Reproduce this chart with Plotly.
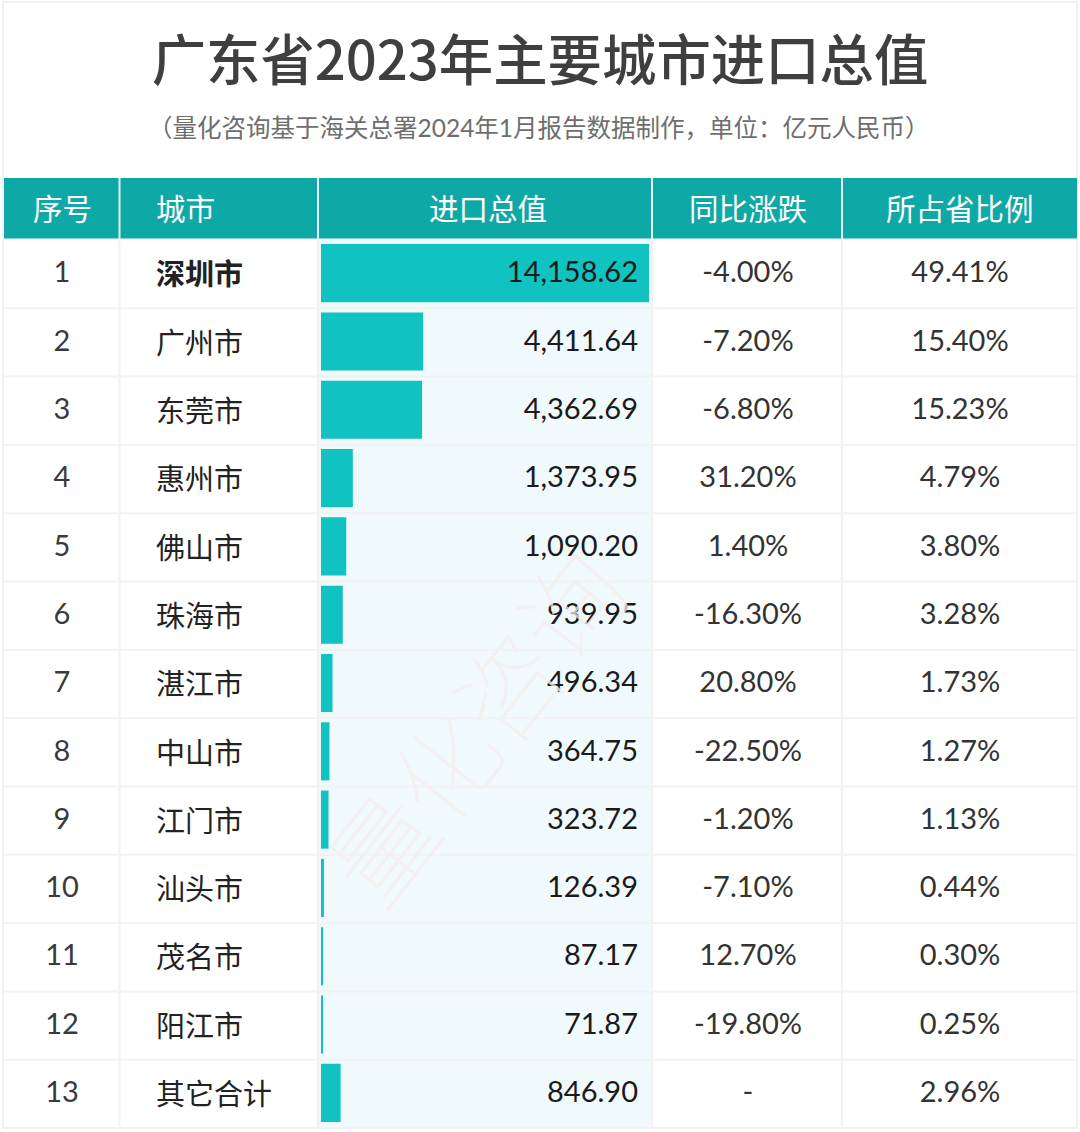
import plotly.graph_objects as go

# table contents
ranks = [str(i) for i in range(1, 14)]
cities = ['深圳市', '广州市', '东莞市', '惠州市', '佛山市', '珠海市', '湛江市',
          '中山市', '江门市', '汕头市', '茂名市', '阳江市', '其它合计']
import_values = [14158.62, 4411.64, 4362.69, 1373.95, 1090.20, 939.95, 496.34,
                 364.75, 323.72, 126.39, 87.17, 71.87, 846.90]
yoy_change = [-4.00, -7.20, -6.80, 31.20, 1.40, -16.30, 20.80,
              -22.50, -1.20, -7.10, 12.70, -19.80, None]
province_share = [49.41, 15.40, 15.23, 4.79, 3.80, 3.28, 1.73,
                  1.27, 1.13, 0.44, 0.30, 0.25, 2.96]
headers = ['序号', '城市', '进口总值', '同比涨跌', '所占省比例']

W, H = 1080, 1132
FONT = 'Lato, "Noto Sans CJK SC", sans-serif'
CJK = '"Noto Sans CJK SC", sans-serif'
TEAL = '#0ea9a7'
BAR = '#10c2c0'
LINE = '#f2f2f2'

row_top, row_bottom = 240, 1128
col_edges = [4, 119.5, 318, 652, 842, 1077]


def px(x):
    return x / W


def py(y):
    return 1 - y / H


yoy_labels = ['-' if v is None else f'{v:.2f}%' for v in yoy_change]
share_labels = [f'{v:.2f}%' for v in province_share]
value_labels = [f'{v:,.2f}' for v in import_values]
city_labels = [f'<b>{c}</b>' if i == 0 else c for i, c in enumerate(cities)]

fig = go.Figure()

fig.add_trace(go.Bar(x=import_values, y=ranks, orientation='h', width=0.85,
                     marker=dict(color=BAR, line=dict(width=0)),
                     xaxis='x', yaxis='y', hoverinfo='x+y'))


def add_column(labels, x, position, color, family=FONT, size=29, yaxis='y2'):
    fig.add_trace(go.Scatter(x=[x] * len(labels), y=ranks, mode='text', text=labels,
                             textposition=position, xaxis='x2', yaxis=yaxis, cliponaxis=False,
                             textfont=dict(family=family, size=size, color=color),
                             hoverinfo='skip'))


add_column(ranks, 62, 'middle center', '#3a3a3a')
add_column(city_labels, 156, 'middle right', '#222222', family=CJK, size=29, yaxis='y3')
add_column(value_labels, 638, 'middle left', '#1a1a1a')
add_column(yoy_labels, 748, 'middle center', '#333333')
add_column(share_labels, 960, 'middle center', '#333333')

# cell backgrounds and grid
shapes = [dict(type='rect', xref='paper', yref='paper', layer='below',
               x0=px(319), x1=px(652), y0=py(row_top), y1=py(row_bottom),
               fillcolor='#f0f9fb', line=dict(width=0)),
          dict(type='rect', xref='paper', yref='paper', layer='below',
               x0=px(3), x1=px(1077), y0=py(2), y1=py(row_bottom),
               fillcolor='rgba(0,0,0,0)', line=dict(color=LINE, width=2)),
          dict(type='rect', xref='paper', yref='paper', layer='below',
               x0=px(4), x1=px(1077), y0=py(178), y1=py(238.5),
               fillcolor=TEAL, line=dict(width=0))]
for x in col_edges[1:-1]:
    shapes.append(dict(type='line', xref='paper', yref='paper', layer='below',
                       x0=px(x), x1=px(x), y0=py(178), y1=py(238.5),
                       line=dict(color='#e8f8f7', width=2)))
    shapes.append(dict(type='line', xref='paper', yref='paper', layer='below',
                       x0=px(x), x1=px(x), y0=py(240), y1=py(row_bottom),
                       line=dict(color=LINE, width=2)))
row_h = (row_bottom - row_top) / len(ranks)
for i in range(1, len(ranks)):
    y = row_top + i * row_h
    shapes.append(dict(type='line', xref='paper', yref='paper', layer='below',
                       x0=px(4), x1=px(1077), y0=py(y), y1=py(y),
                       line=dict(color=LINE, width=2)))

annotations = [
    dict(text='（量化咨询基于海关总署2024年1月报告数据制作，单位：亿元人民币）', x=px(539), y=py(127),
         xref='paper', yref='paper', showarrow=False, yanchor='middle',
         font=dict(family=FONT, size=24.5, color='#6e6e6e')),
    # watermark
    dict(text='量化咨询', x=px(472), y=py(724), xref='paper', yref='paper', showarrow=False,
         yanchor='middle', textangle=-52,
         font=dict(family=CJK, size=102, color='rgba(245,236,236,0.75)', weight=100)),
]
header_x = [62, 154, 488, 748, 960]
for i, (text, x) in enumerate(zip(headers, header_x)):
    annotations.append(dict(text=text, x=px(x), y=py(207.5), xref='paper', yref='paper',
                            showarrow=False, yanchor='middle',
                            xanchor='left' if i == 1 else 'center',
                            font=dict(family=CJK, size=29.5, color='white')))


def row_axis(shift):
    # same rows, nudged a few pixels so each font sits where it does in the picture
    return dict(domain=[py(row_bottom + shift), py(row_top + shift)], type='category',
                categoryorder='array', categoryarray=ranks,
                range=[len(ranks) - 0.5, -0.5], visible=False, anchor='x2')


fig.update_layout(
    width=W, height=H, margin=dict(l=0, r=0, t=0, b=0),
    paper_bgcolor='white', plot_bgcolor='rgba(0,0,0,0)',
    showlegend=False, shapes=shapes, annotations=annotations,
    title=dict(text='广东省2023年主要城市进口总值', x=0.5, xanchor='center',
               y=py(61), yanchor='middle',
               font=dict(family='"Noto Sans CJK SC Medium", "Noto Sans CJK SC", sans-serif',
                         size=54.4, color='#3f3f3f')),
    xaxis=dict(domain=[px(321), px(649)], range=[0, max(import_values)], visible=False),
    xaxis2=dict(domain=[0, 1], range=[0, W], anchor='y2', visible=False),
    yaxis=row_axis(-1),
    yaxis2=row_axis(1),
    yaxis3=row_axis(4),
)

fig.write_html('out.html', config={'displayModeBar': False},
               post_script="document.body.style.margin='0';")
